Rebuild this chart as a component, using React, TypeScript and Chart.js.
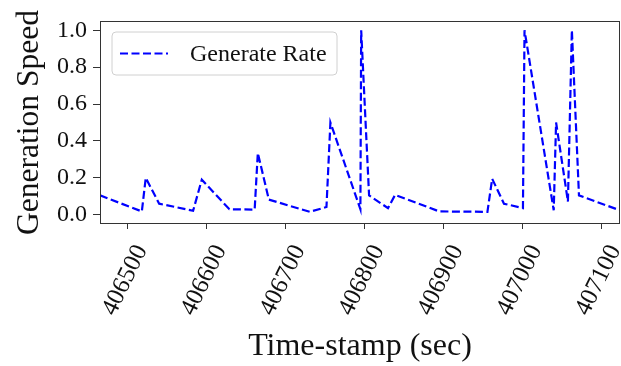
import React, { useEffect, useRef } from "react";
import { Chart, registerables } from "chart.js";

Chart.register(...registerables);

const times: number[] = [
  406465, 406518, 406523, 406540, 406583, 406594, 406629, 406661, 406665, 406679,
  406731, 406752, 406757, 406795, 406796, 406806, 406830, 406839, 406895, 406956,
  406962, 406977, 407001, 407003, 407040, 407043, 407058, 407063, 407072, 407124,
];
const speeds: number[] = [
  0.105, 0.018, 0.2, 0.06, 0.022, 0.19, 0.03, 0.028, 0.335, 0.082,
  0.016, 0.042, 0.5, 0.03, 1.0, 0.105, 0.036, 0.108, 0.018, 0.016,
  0.195, 0.06, 0.036, 1.0, 0.024, 0.5, 0.072, 1.0, 0.105, 0.024,
];
const seriesLabel = "Generate Rate";
const xTitle = "Time-stamp (sec)";
const yTitle = "Generation Speed";

const FONT = "'Liberation Serif', 'DejaVu Serif', serif";

const framePlugin = {
  id: "frameAndLegend",
  afterDraw(chart: any) {
    const { ctx, chartArea } = chart;
    const { left, right, top, bottom } = chartArea;
    ctx.save();
    ctx.strokeStyle = "#333333";
    ctx.lineWidth = 1;
    ctx.setLineDash([]);
    ctx.strokeRect(left + 0.5, top + 0.5, right - left - 1, bottom - top - 1);

    // legend box
    const lx = left + 12, ly = top + 11, lw = 225, lh = 43, r = 4;
    ctx.beginPath();
    ctx.moveTo(lx + r, ly);
    ctx.lineTo(lx + lw - r, ly);
    ctx.arcTo(lx + lw, ly, lx + lw, ly + r, r);
    ctx.lineTo(lx + lw, ly + lh - r);
    ctx.arcTo(lx + lw, ly + lh, lx + lw - r, ly + lh, r);
    ctx.lineTo(lx + r, ly + lh);
    ctx.arcTo(lx, ly + lh, lx, ly + lh - r, r);
    ctx.lineTo(lx, ly + r);
    ctx.arcTo(lx, ly, lx + r, ly, r);
    ctx.closePath();
    ctx.fillStyle = "rgba(255,255,255,0.85)";
    ctx.fill();
    ctx.strokeStyle = "#d0d0d0";
    ctx.stroke();

    const cy = ly + lh / 2;
    ctx.beginPath();
    ctx.strokeStyle = "#0000ff";
    ctx.lineWidth = 2;
    ctx.setLineDash([8, 3.5]);
    ctx.moveTo(lx + 8, cy);
    ctx.lineTo(lx + 56, cy);
    ctx.stroke();
    ctx.setLineDash([]);

    ctx.fillStyle = "#111111";
    ctx.font = `24px ${FONT}`;
    ctx.textAlign = "left";
    ctx.textBaseline = "middle";
    ctx.fillText(chart.data.datasets[0].label, lx + 78, cy + 1);
    ctx.restore();
  },
};

export default function App() {
  const ref = useRef<HTMLCanvasElement | null>(null);
  useEffect(() => {
    if (!ref.current) return;
    const data = times.map((t, i) => ({ x: t, y: speeds[i] }));
    const chart = new Chart(ref.current, {
      type: "line",
      data: {
        datasets: [
          {
            label: seriesLabel,
            data,
            borderColor: "#0000ff",
            borderWidth: 2.2,
            borderDash: [8, 3.5],
            pointRadius: 0,
            tension: 0,
            fill: false,
          },
        ],
      },
      options: {
        animation: false,
        responsive: false,
        layout: { padding: { top: 21, right: 1, left: 0, bottom: 0 } },
        plugins: { legend: { display: false }, tooltip: { enabled: false } },
        scales: {
          x: {
            type: "linear",
            min: 406465,
            max: 407124,
            afterFit(scale: any) {
              scale.height = 142;
              scale.paddingLeft = 0;
              scale.paddingRight = 0;
            },
            ticks: {
              stepSize: 100,
              includeBounds: false,
              minRotation: 64,
              maxRotation: 64,
              labelOffset: 14,
              padding: 11,
              color: "#111111",
              font: { family: FONT, size: 25 },
              callback: (v: any) => String(v),
            },
            grid: {
              display: true,
              drawOnChartArea: false,
              drawTicks: true,
              tickLength: 5,
              color: "#333333",
            },
            border: { display: false },
            title: {
              display: true,
              text: xTitle,
              color: "#111111",
              font: { family: FONT, size: 32 },
              padding: { top: 0, bottom: 0 },
            },
          },
          y: {
            type: "linear",
            min: -0.05,
            max: 1.05,
            afterFit(scale: any) {
              scale.width = 100;
            },
            ticks: {
              stepSize: 0.2,
              includeBounds: false,
              padding: 6,
              color: "#111111",
              font: { family: FONT, size: 24 },
              callback: (v: any) => Number(v).toFixed(1),
            },
            grid: {
              display: true,
              drawOnChartArea: false,
              drawTicks: true,
              tickLength: 7,
              color: "#333333",
            },
            border: { display: false },
            title: {
              display: true,
              text: yTitle,
              color: "#111111",
              font: { family: FONT, size: 31.5 },
              padding: { top: 11, bottom: 0 },
            },
          },
        },
      },
      plugins: [framePlugin],
    });
    return () => chart.destroy();
  }, []);
  return (
    <div style={{ position: "fixed", left: 0, top: 0, width: 621, height: 366, background: "#fff" }}>
      <canvas ref={ref} width={621} height={366} />
    </div>
  );
}
